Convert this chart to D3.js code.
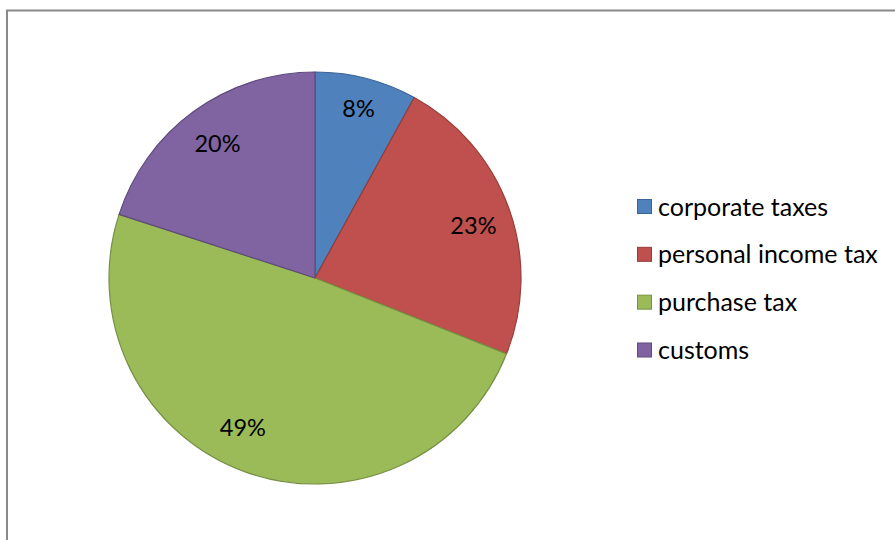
<!DOCTYPE html>
<html><head><meta charset="utf-8">
<script src="https://cdn.jsdelivr.net/npm/d3@7/dist/d3.min.js"></script>
<style>html,body{margin:0;padding:0;background:#fff;}svg{display:block;}</style>
</head><body>
<svg id="c" width="895" height="540"></svg>
<script>
const categories = ["corporate taxes", "personal income tax", "purchase tax", "customs"];
const values = [8, 23, 49, 20];
const labels = ["8%", "23%", "49%", "20%"];
const fills = ["#4F81BD", "#C0504D", "#9BBB59", "#8064A2"];
const strokes = ["#3A6496", "#943D3A", "#779043", "#5F4A7C"];
const labelFactor = [0.85, 0.81, 0.805, 0.805];
const labelTurn = [0, 1.5, 6, 0]; // degrees, label placement nudges

const svg = d3.select("#c");
const font = "Lato, 'Open Sans', sans-serif";

// frame (top and left edges visible)
svg.append("path").attr("d", "M7,540 V10.5 H895").attr("fill", "none")
  .attr("stroke", "#8a8a8a").attr("stroke-width", 2);

const cx = 315, cy = 278, R = 206;
const pie = d3.pie().sort(null).value(d => d)(values);
const arc = d3.arc().innerRadius(0).outerRadius(R);
const g = svg.append("g").attr("transform", `translate(${cx},${cy})`);
g.selectAll("path.s").data(pie).join("path").attr("class", "s")
  .attr("d", arc).attr("fill", (d, i) => fills[i])
  .attr("stroke", (d, i) => strokes[i]).attr("stroke-width", 1.2)
  .attr("stroke-linejoin", "round");

g.selectAll("text.l").data(pie).join("text").attr("class", "l")
  .attr("transform", (d, i) => {
    const a = (d.startAngle + d.endAngle) / 2 + labelTurn[i] * Math.PI / 180;
    const r = R * labelFactor[i];
    return `translate(${r * Math.sin(a)},${-r * Math.cos(a)})`;
  })
  .attr("text-anchor", "middle").attr("dy", "0.36em")
  .attr("font-family", font).attr("font-size", 23.5).attr("fill", "#000")
  .text((d, i) => labels[i]);

// legend
const ly = d3.scalePoint().domain(categories).range([206.5, 350]);
const leg = svg.append("g");
const row = leg.selectAll("g").data(categories).join("g")
  .attr("transform", d => `translate(637,${ly(d)})`);
row.append("rect").attr("x", 0.5).attr("y", -7).attr("width", 14).attr("height", 14)
  .attr("fill", (d, i) => fills[i]).attr("stroke", (d, i) => strokes[i]).attr("stroke-width", 1);
row.append("text").attr("x", 21).attr("dy", "0.36em")
  .attr("font-family", font).attr("font-size", 25).attr("fill", "#000")
  .text(d => d);
</script>
</body></html>
